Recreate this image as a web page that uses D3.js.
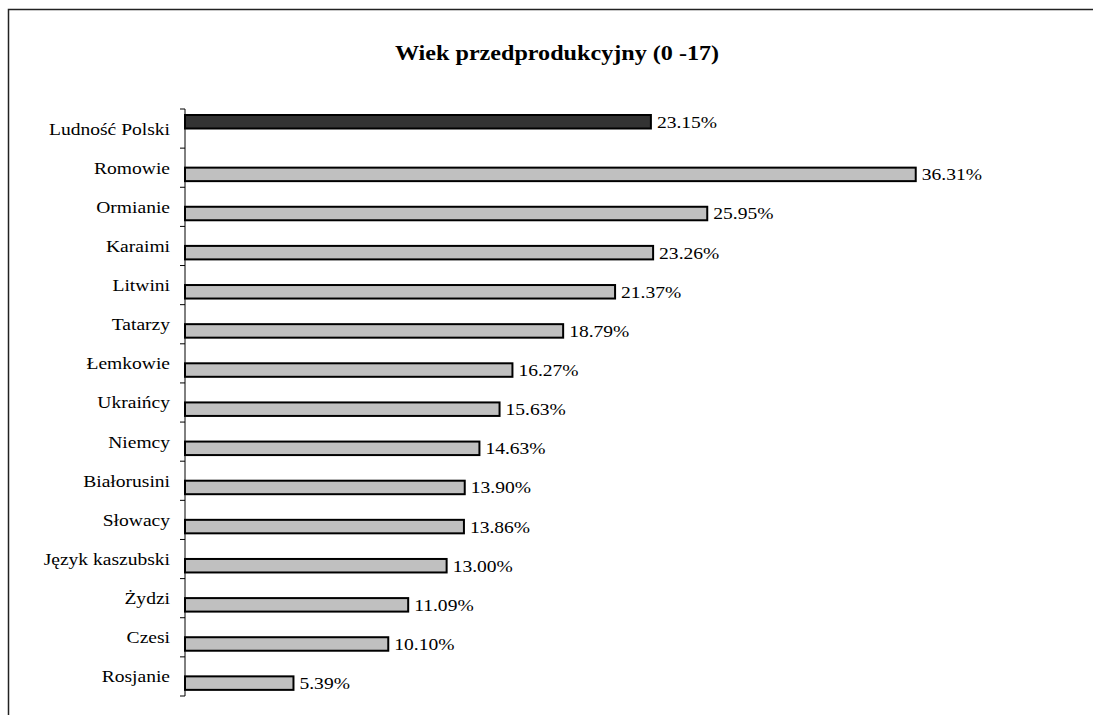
<!DOCTYPE html>
<html>
<head>
<meta charset="utf-8">
<script src="https://cdn.jsdelivr.net/npm/d3@7"></script>
<style>
  html, body { margin: 0; background: #fff; overflow: hidden; }
  svg { display: block; }
  svg text { font-family: "Liberation Serif", "Times New Roman", serif; fill: #000; }
</style>
</head>
<body>
<svg id="chart"></svg>
<script>
var width = 1093;
var height = 715;

// data
var categories = ["Ludność Polski", "Romowie", "Ormianie", "Karaimi", "Litwini", "Tatarzy",
  "Łemkowie", "Ukraińcy", "Niemcy", "Białorusini", "Słowacy", "Język kaszubski",
  "Żydzi", "Czesi", "Rosjanie"];
var values = [23.15, 36.31, 25.95, 23.26, 21.37, 18.79, 16.27, 15.63, 14.63, 13.90,
  13.86, 13.00, 11.09, 10.10, 5.39];
// first row is the whole-country series, the rest the minorities
var series = [0, 1, 1, 1, 1, 1, 1, 1, 1, 1, 1, 1, 1, 1, 1];
var seriesColors = ["#333333", "#c0c0c0"];
var title = "Wiek przedprodukcyjny (0 -17)";

// the source picture is a bit stretched sideways, text too
var sx = 1.15;

var svg = d3.select("#chart").attr("width", width).attr("height", height);

// outer frame (only top and left edge are in view)
svg.append("path")
  .attr("d", "M8.5," + height + "V9.5H" + width)
  .attr("fill", "none").attr("stroke", "#222").attr("stroke-width", 1.5);

function placeText(sel, px, py) {
  sel.attr("transform", "translate(" + px + "," + py + ") scale(" + sx + ",1)");
}

svg.append("text")
  .call(placeText, 557, 60)
  .attr("text-anchor", "middle")
  .style("font-size", "21px").style("font-weight", "bold")
  .text(title);

var x = d3.scaleLinear().domain([0, 40]).range([185, 990]);
var y = d3.scaleBand().domain(categories).range([109, 696]);
var barH = 13.5;

// two slots per band, as in a clustered bar chart
function barTop(i) {
  return y(categories[i]) + (series[i] === 0 ? 6 : 19.5);
}

svg.selectAll("rect.bar")
  .data(values)
  .enter()
  .append("rect")
    .attr("class", "bar")
    .attr("x", x(0))
    .attr("y", function(d, i) { return barTop(i); })
    .attr("width", function(d) { return x(d) - x(0); })
    .attr("height", barH)
    .attr("fill", function(d, i) { return seriesColors[series[i]]; })
    .attr("stroke", "#000")
    .attr("stroke-width", 2);

svg.selectAll("text.val")
  .data(values)
  .enter()
  .append("text")
    .attr("class", "val")
    .each(function(d, i) {
      d3.select(this).call(placeText, x(d) + 6, barTop(i) + barH / 2);
    })
    .attr("dy", "0.35em")
    .style("font-size", "17px")
    .text(function(d) { return d.toFixed(2) + "%"; });

// category labels
svg.selectAll("text.cat")
  .data(categories)
  .enter()
  .append("text")
    .attr("class", "cat")
    .each(function(d) {
      d3.select(this).call(placeText, x(0) - 15, y(d) + y.bandwidth() / 2);
    })
    .attr("dy", "0.35em")
    .attr("text-anchor", "end")
    .style("font-size", "17px")
    .text(function(d) { return d; });

svg.append("line")
  .attr("x1", x(0)).attr("x2", x(0))
  .attr("y1", 109).attr("y2", 696)
  .attr("stroke", "#000").attr("stroke-width", 1);

var bounds = categories.map(function(c) { return y(c); }).concat([y.range()[1]]);
svg.selectAll("line.tick")
  .data(bounds)
  .enter()
  .append("line")
    .attr("class", "tick")
    .attr("x1", x(0) - 5).attr("x2", x(0))
    .attr("y1", function(d) { return d; })
    .attr("y2", function(d) { return d; })
    .attr("stroke", "#000");
</script>
</body>
</html>
